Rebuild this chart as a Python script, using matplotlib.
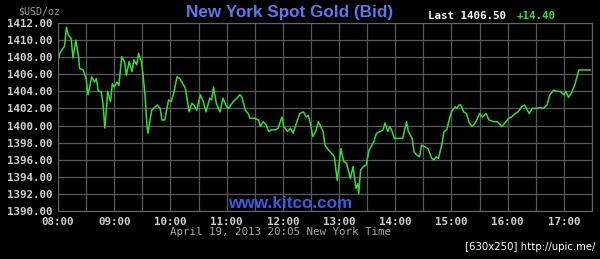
import matplotlib
matplotlib.use('Agg')
import matplotlib.pyplot as plt
import matplotlib.ticker as mticker

# minutes after 08:00 New York time, bid price
minutes = [0, 2, 5, 7, 9, 11, 14, 16, 19, 22, 23, 27, 30, 32, 36, 39, 41, 43, 46, 48,
           50, 52, 53, 56, 58, 60, 63, 65, 68, 71, 73, 76, 79, 81, 84, 86, 89, 91, 93, 95,
           96, 100, 104, 106, 109, 111, 114, 118, 121, 124, 127, 130, 136, 140, 143, 145, 148, 152, 155, 158,
           162, 164, 166, 169, 173, 176, 180, 182, 187, 191, 194, 196, 200, 203, 205, 210, 214, 216, 219, 222,
           225, 228, 232, 235, 239, 241, 245, 248, 251, 255, 258, 262, 265, 267, 269, 272, 275, 278, 283, 285,
           289, 292, 295, 298, 302, 305, 308, 312, 315, 318, 320, 321, 323, 326, 329, 332, 337, 340, 344, 347,
           349, 352, 354, 356, 359, 363, 368, 372, 374, 378, 380, 383, 386, 388, 392, 395, 399, 401, 404, 406,
           410, 412, 415, 418, 420, 424, 426, 428, 430, 433, 436, 439, 442, 444, 447, 450, 453, 457, 460, 465,
           469, 474, 477, 481, 484, 488, 491, 495, 498, 500, 503, 506, 510, 515, 518, 522, 525, 529, 532, 536,
           540, 542, 545, 548, 552, 556, 561, 568]
prices = [1407.6, 1408.45, 1409.0, 1409.3, 1411.5, 1410.6, 1410.2, 1407.9, 1410.0, 1408.05,
          1406.7, 1406.5, 1405.5, 1403.6, 1405.7, 1405.1, 1405.5, 1404.0, 1404.0, 1402.6,
          1399.7, 1402.4, 1404.0, 1402.8, 1404.9, 1404.5, 1405.1, 1404.7, 1408.05, 1407.5,
          1405.9, 1407.5, 1406.3, 1407.7, 1407.1, 1408.45, 1407.5, 1405.7, 1403.4, 1399.9,
          1399.1, 1401.8, 1402.2, 1402.4, 1402.0, 1400.65, 1400.65, 1403.0, 1402.8, 1404.0,
          1405.7, 1405.5, 1404.35, 1401.6, 1402.6, 1402.4, 1401.8, 1403.6, 1402.8, 1401.6,
          1403.2, 1403.0, 1404.5, 1402.6, 1401.6, 1403.2, 1402.2, 1402.0, 1402.8, 1403.2,
          1403.6, 1403.4, 1401.8, 1401.4, 1400.85, 1400.85, 1400.65, 1399.9, 1400.45, 1400.1,
          1399.3, 1399.5, 1399.5, 1399.7, 1401.0, 1399.9, 1399.3, 1399.7, 1399.1, 1400.45,
          1401.4, 1401.6, 1401.0, 1401.2, 1400.45, 1398.7, 1399.3, 1400.45, 1399.3, 1397.7,
          1397.1, 1396.75, 1396.35, 1393.6, 1397.3, 1395.8, 1395.6, 1393.8, 1395.2, 1392.65,
          1393.2, 1392.05, 1394.8, 1395.2, 1395.4, 1397.1, 1398.1, 1399.1, 1399.3, 1399.5,
          1400.3, 1399.3, 1399.9, 1399.5, 1398.5, 1398.5, 1398.5, 1400.45, 1399.3, 1398.5,
          1396.95, 1396.55, 1396.35, 1397.7, 1397.5, 1397.3, 1396.15, 1396.0, 1396.35, 1396.15,
          1397.9, 1399.3, 1399.5, 1400.85, 1401.6, 1402.2, 1402.0, 1402.4, 1402.4, 1401.6,
          1401.4, 1400.3, 1399.9, 1400.1, 1400.65, 1401.4, 1401.0, 1401.4, 1400.65, 1400.45,
          1400.45, 1399.9, 1400.3, 1400.85, 1401.0, 1401.4, 1401.6, 1402.2, 1402.4, 1402.0,
          1401.4, 1402.0, 1402.0, 1402.1, 1402.0, 1402.4, 1403.6, 1404.15, 1404.0, 1404.0,
          1403.6, 1404.0, 1403.3, 1403.8, 1404.9, 1406.5, 1406.5, 1406.5]

hours = [8 + m / 60 for m in minutes]
hour_labels = ['08:00', '09:00', '10:00', '11:00', '12:00', '13:00', '14:00', '15:00', '16:00', '17:00']
y_ticks = [1390, 1392, 1394, 1396, 1398, 1400, 1402, 1404, 1406, 1408, 1410, 1412]

mono = 'DejaVu Sans Mono'
fig = plt.figure(figsize=(6, 2.59), dpi=100, facecolor='black')
ax = fig.add_axes([58 / 600, 48 / 259, 534 / 600, 188 / 259], facecolor='black')

ax.plot(hours, prices, color='#33dd33', lw=1.1)

ax.set_xlim(8, 17.5)
ax.set_ylim(1390, 1412)
ax.set_xticks(range(8, 18))
ax.set_xticklabels(hour_labels)
ax.xaxis.set_minor_locator(mticker.MultipleLocator(0.5))
ax.set_yticks(y_ticks)
ax.set_yticklabels(['%.2f' % v for v in y_ticks])
ax.grid(True, which='both', color='#5a5a5a', lw=0.9)
ax.tick_params(which='both', length=0, colors='#d0d0d0', pad=4)
for lab in ax.get_xticklabels() + ax.get_yticklabels():
    lab.set_family(mono)
    lab.set_weight('bold')
    lab.set_fontsize(7.8)
for s in ax.spines.values():
    s.set_color('#666666')

fig.text(18 / 600, 1 - 11 / 259, '$USD/oz', color='#a0a0a0', family=mono, fontsize=7.2, va='center')
fig.text(290 / 600, 1 - 12 / 259, 'New York Spot Gold (Bid)', color='#5b78f0',
         family='Liberation Sans', weight='bold', fontsize=12.3, ha='center', va='center')
fig.text(428 / 600, 1 - 16 / 259, 'Last 1406.50', color='white', family=mono, weight='bold',
         fontsize=7.8, va='center')
fig.text(517 / 600, 1 - 16 / 259, '+14.40', color='#33dd33', family=mono, weight='bold',
         fontsize=7.8, va='center')
fig.text(290 / 600, 1 - 204 / 259, 'www.kitco.com', color='#3a5ae8', family='Liberation Sans',
         weight='bold', fontsize=12.3, ha='center', va='center')
fig.text(281 / 600, 1 - 232 / 259, 'April 19, 2013 20:05 New York Time', color='#a8a8a8',
         family=mono, fontsize=7.8, ha='center', va='center')
fig.text(595 / 600, 1 - 247 / 259, '[630x250] http://upic.me/', color='white',
         family='DejaVu Sans', fontsize=7.3, ha='right', va='center')

fig.savefig('out.png', dpi=100, facecolor='black')
